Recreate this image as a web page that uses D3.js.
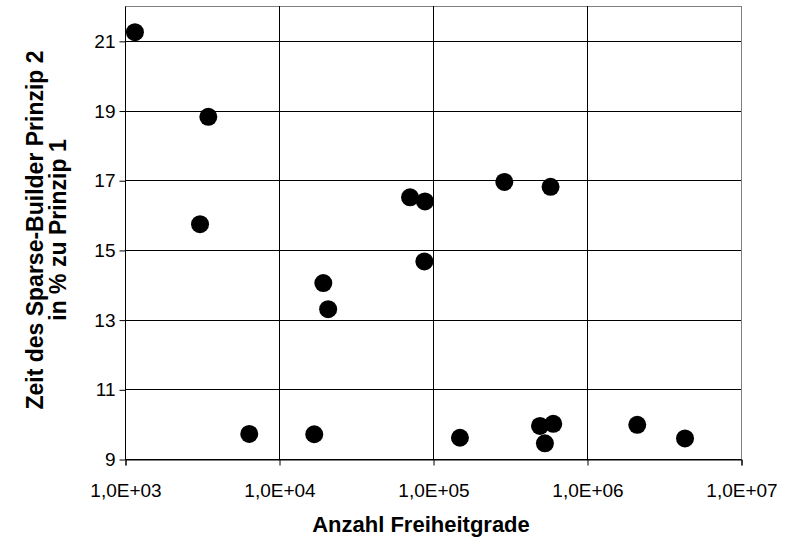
<!DOCTYPE html>
<html>
<head>
<meta charset="utf-8">
<script src="https://cdn.jsdelivr.net/npm/d3@7"></script>
<style>
  body { margin: 0; background: #fff; }
  text { font-family: "Liberation Sans", Arial, sans-serif; }
</style>
</head>
<body>
<div id="chart"></div>
<script>
// degrees of freedom vs. time of builder principle 2 relative to principle 1
var dof = [1160, 3475, 3070, 6410, 19400, 20850, 16940, 70970, 88700, 87900,
           290400, 580000, 149600, 495000, 533000, 604000, 2120000, 4330000];
var timePct = [21.25, 18.82, 15.74, 9.72, 14.05, 13.30, 9.71, 16.51, 16.39, 14.67,
               16.95, 16.81, 9.61, 9.95, 9.45, 10.01, 9.98, 9.59];

var xTicks = [1e3, 1e4, 1e5, 1e6, 1e7];
var xTickLabels = ['1,0E+03', '1,0E+04', '1,0E+05', '1,0E+06', '1,0E+07'];
var yTicks = [9, 11, 13, 15, 17, 19, 21];

var width = 786, height = 542;
var margin = {top: 6, right: 45, bottom: 83, left: 125};
var w = width - margin.left - margin.right,
    h = height - margin.top - margin.bottom;

var svg = d3.select('#chart').append('svg')
    .attr('width', width)
    .attr('height', height);

var g = svg.append('g')
    .attr('transform', 'translate(' + margin.left + ',' + margin.top + ')');

var x = d3.scaleLog().domain([1e3, 1e7]).range([0, w]);
var y = d3.scaleLinear().domain([9, 22]).range([h, 0]);

// plot frame
g.append('rect')
    .attr('x', 0.5).attr('y', 0.5)
    .attr('width', w).attr('height', h)
    .attr('fill', 'none')
    .attr('stroke', '#808080')
    .attr('stroke-width', 1);

// gridlines
g.selectAll('.hgrid')
  .data(yTicks).enter()
  .append('line')
    .attr('x1', 0).attr('x2', w)
    .attr('y1', d => Math.round(y(d)) + 0.5)
    .attr('y2', d => Math.round(y(d)) + 0.5)
    .attr('stroke', '#000')
    .attr('stroke-width', 1);

g.selectAll('.vgrid')
  .data(xTicks.slice(1, -1)).enter()
  .append('line')
    .attr('y1', 0).attr('y2', h)
    .attr('x1', d => Math.round(x(d)) + 0.5)
    .attr('x2', d => Math.round(x(d)) + 0.5)
    .attr('stroke', '#000')
    .attr('stroke-width', 1);

// axes
var xAxis = d3.axisBottom(x)
    .tickValues(xTicks)
    .tickFormat((d, i) => xTickLabels[i])
    .tickSize(6)
    .tickPadding(18);

var yAxis = d3.axisLeft(y)
    .tickValues(yTicks)
    .tickFormat(d3.format('d'))
    .tickSize(6)
    .tickPadding(4);

var gx = g.append('g')
    .attr('transform', 'translate(0.5,' + (h + 0.5) + ')')
    .call(xAxis);
var gy = g.append('g')
    .attr('transform', 'translate(0.5,0.5)')
    .call(yAxis);

[gx, gy].forEach(function(a) {
  a.select('.domain').attr('stroke', '#000');
  a.selectAll('.tick line').attr('stroke', '#000');
  a.selectAll('.tick text')
    .attr('fill', '#000')
    .style('font-size', '19px')
    .style('font-family', '"Liberation Sans", Arial, sans-serif');
});
gy.select('.domain').attr('d', 'M0,' + h + 'V0');

// points
g.selectAll('.dot')
  .data(dof).enter()
  .append('circle')
    .attr('cx', d => x(d))
    .attr('cy', (d, i) => y(timePct[i]))
    .attr('r', 9)
    .attr('fill', '#000');

// axis titles
svg.append('text')
    .attr('x', 421)
    .attr('y', 532)
    .attr('text-anchor', 'middle')
    .style('font-size', '22px')
    .style('font-weight', 'bold')
    .text('Anzahl Freiheitgrade');

var yt = svg.append('text')
    .attr('transform', 'translate(0,230) rotate(-90)')
    .attr('text-anchor', 'middle')
    .style('font-size', '23px')
    .style('font-weight', 'bold');
yt.append('tspan').attr('x', 0).attr('y', 43).text('Zeit des Sparse-Builder Prinzip 2');
yt.append('tspan').attr('x', 0).attr('y', 66).text('in % zu Prinzip 1');
</script>
</body>
</html>
